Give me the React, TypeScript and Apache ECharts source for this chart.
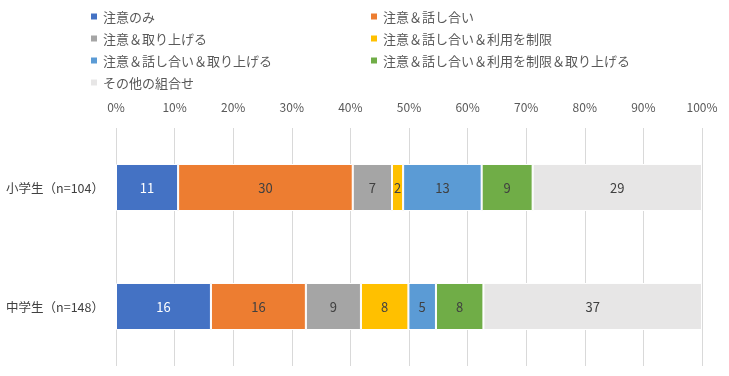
import React, { useEffect, useRef } from "react";
import * as echarts from "echarts";

const categories = ["小学生（n=104）", "中学生（n=148）"];
const seriesNames = [
  "注意のみ",
  "注意＆話し合い",
  "注意＆取り上げる",
  "注意＆話し合い＆利用を制限",
  "注意＆話し合い＆取り上げる",
  "注意＆話し合い＆利用を制限＆取り上げる",
  "その他の組合せ",
];
const colors = ["#4472C4", "#ED7D31", "#A5A5A5", "#FFC000", "#5B9BD5", "#70AD47", "#E7E6E6"];
// percentages per series: [小学生, 中学生]
const values: number[][] = [
  [10.6, 16.2],
  [29.8, 16.2],
  [6.7, 9.4],
  [1.9, 8.1],
  [13.4, 4.7],
  [8.7, 8.1],
  [28.9, 37.3],
];
const xTicks = [0, 10, 20, 30, 40, 50, 60, 70, 80, 90, 100];

const FONT = "'Noto Sans CJK JP', 'Noto Sans', sans-serif";

export default function App() {
  const ref = useRef<HTMLDivElement>(null);
  useEffect(() => {
    if (!ref.current) return;
    const chart = echarts.init(ref.current, undefined, { renderer: "svg" });
    const leftIdx = [0, 2, 4, 6];
    const rightIdx = [1, 3, 5];
    const legendCommon = {
      orient: "vertical" as const,
      top: 4,
      padding: 5,
      itemWidth: 8,
      itemHeight: 8,
      itemGap: 7,
      icon: "rect",
      textStyle: { fontSize: 13, color: "#595959", fontFamily: FONT, lineHeight: 15 },
    };
    chart.setOption({
      animation: false,
      textStyle: { fontFamily: FONT },
      legend: [
        { ...legendCommon, left: 84, data: leftIdx.map((i) => seriesNames[i]) },
        { ...legendCommon, left: 364, data: rightIdx.map((i) => seriesNames[i]) },
      ],
      grid: { left: 116, right: 27, top: 128, bottom: 10, containLabel: false },
      xAxis: {
        type: "value",
        position: "top",
        min: 0,
        max: 100,
        interval: 10,
        axisLine: { show: false },
        axisTick: { show: false },
        splitLine: { lineStyle: { color: "#D9D9D9", width: 1 } },
        axisLabel: {
          formatter: (v: number) => (xTicks.includes(v) ? `${v}%` : ""),
          color: "#595959",
          fontSize: 12,
          margin: 16,
          fontFamily: FONT,
        },
      },
      yAxis: {
        type: "category",
        inverse: true,
        data: categories,
        axisLine: { show: false },
        axisTick: { show: false },
        axisLabel: { color: "#404040", fontSize: 12.5, margin: 12, fontFamily: FONT },
      },
      series: seriesNames.map((name, i) => ({
        name,
        type: "bar",
        stack: "total",
        barWidth: "39.5%",
        data: values[i],
        itemStyle: { color: colors[i], borderColor: "#ffffff", borderWidth: 1 },
        label: {
          show: true,
          position: "inside",
          formatter: (p: any) => `${Math.round(p.value)}`,
          color: i === 0 ? "#ffffff" : "#404040",
          fontSize: 13,
          fontFamily: FONT,
        },
      })),
    });
    return () => chart.dispose();
  }, []);
  return (
    <div
      ref={ref}
      style={{ position: "fixed", left: 0, top: 0, width: 729, height: 376 }}
    />
  );
}
